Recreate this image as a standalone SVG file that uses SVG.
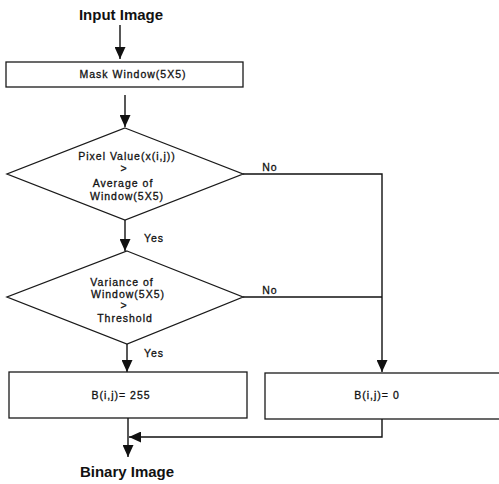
<svg xmlns="http://www.w3.org/2000/svg" width="499" height="484" viewBox="0 0 499 484">
<style>
.shape{fill:#fff;stroke:#1a1a1a;stroke-width:1.3}
.line{fill:none;stroke:#111;stroke-width:1.4}
.t{font-family:"Liberation Sans",Arial,sans-serif;font-size:10.5px;letter-spacing:1px;fill:#111;stroke:#111;stroke-width:0.3;text-anchor:middle}
.title{font-family:"Liberation Sans",Arial,sans-serif;font-size:15px;font-weight:bold;fill:#111;text-anchor:middle}
</style>
<defs>
<marker id="arr" markerUnits="userSpaceOnUse" viewBox="0 0 12 11" markerWidth="12" markerHeight="11" refX="12" refY="5.5" orient="auto">
<path d="M0,0 L12,5.5 L0,11 z" fill="#111"/>
</marker>
</defs>
<rect width="499" height="484" fill="#fff"/>
<g id="connectors">
<line class="line" x1="120" y1="25" x2="120" y2="59" marker-end="url(#arr)"/>
<line class="line" x1="125" y1="95" x2="125" y2="127" marker-end="url(#arr)"/>
<line class="line" x1="125" y1="220" x2="125" y2="251" marker-end="url(#arr)"/>
<line class="line" x1="127" y1="344" x2="127" y2="372" marker-end="url(#arr)"/>
<polyline class="line" points="243,174 382,174 382,372" marker-end="url(#arr)"/>
<line class="line" x1="243" y1="297" x2="382" y2="297"/>
<polyline class="line" points="382,419 382,437 129,437" marker-end="url(#arr)"/>
<line class="line" x1="128" y1="418" x2="128" y2="457" marker-end="url(#arr)"/>
<text class="t" x="270" y="171">No</text>
<text class="t" x="270" y="294">No</text>
<text class="t" x="154" y="242">Yes</text>
<text class="t" x="154" y="357">Yes</text>
</g>
<g id="input">
<text class="title" x="121" y="20">Input Image</text>
</g>
<g id="mask">
<rect class="shape" x="6" y="62" width="237" height="25"/>
<text class="t" x="133" y="78">Mask Window(5X5)</text>
</g>
<g id="decision1">
<polygon class="shape" points="125,128 243,174 125,220 7,174"/>
<text class="t" x="127" y="160">Pixel Value(x(i,j))</text>
<text class="t" x="124" y="172">&gt;</text>
<text class="t" x="123" y="187">Average of</text>
<text class="t" x="127" y="200">Window(5X5)</text>
</g>
<g id="decision2">
<polygon class="shape" points="127,251 243,297 127,344 7,297"/>
<text class="t" x="122" y="286">Variance of</text>
<text class="t" x="128" y="298">Window(5X5)</text>
<text class="t" x="124" y="309">&gt;</text>
<text class="t" x="125" y="322">Threshold</text>
</g>
<g id="set255">
<rect class="shape" x="9" y="372" width="238" height="46"/>
<text class="t" x="121" y="399">B(i,j)= 255</text>
</g>
<g id="set0">
<rect class="shape" x="265" y="373" width="240" height="46"/>
<text class="t" x="377" y="399">B(i,j)= 0</text>
</g>
<g id="output">
<text class="title" x="127" y="477">Binary Image</text>
</g>
</svg>
